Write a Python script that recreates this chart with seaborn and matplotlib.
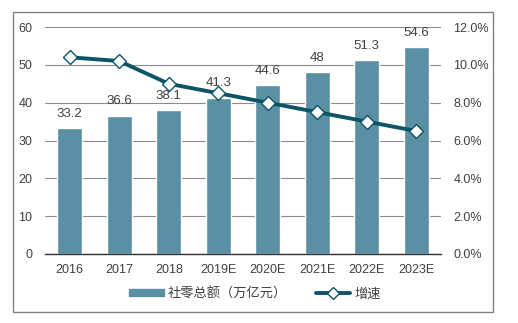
import matplotlib
matplotlib.use("Agg")
import matplotlib.pyplot as plt
import seaborn as sns
import pandas as pd
import numpy as np
from matplotlib.patches import Rectangle
from matplotlib.lines import Line2D

years = ["2016", "2017", "2018", "2019E", "2020E", "2021E", "2022E", "2023E"]
retail_total = [33.2, 36.6, 38.1, 41.3, 44.6, 48, 51.3, 54.6]
growth = [10.4, 10.2, 9.0, 8.5, 8.0, 7.5, 7.0, 6.5]
left_ticks = [0, 10, 20, 30, 40, 50, 60]
right_ticks = [0, 2, 4, 6, 8, 10, 12]
bar_label = "社零总额（万亿元）"
line_label = "增速"

sns.set_theme(style="white")
plt.rcParams['font.family'] = ['Liberation Sans', 'Noto Sans CJK SC', 'DejaVu Sans']

bar_color = "#5B8FA3"
line_color = "#0B5566"
text_color = "#404040"
num_font = ['Liberation Sans', 'DejaVu Sans']

fig = plt.figure(figsize=(5.18, 3.23), dpi=100)
ax = fig.add_axes([45/518, 1-254/323, (441-45)/518, (254-27)/323])

df = pd.DataFrame({"year": years, "total": retail_total, "growth": growth})
sns.barplot(data=df, x="year", y="total", color=bar_color, width=0.5, ax=ax,
            saturation=1)
ax.set_ylim(0, 60)
ax.set_yticks(left_ticks)
ax.set_xlabel("")
ax.set_ylabel("")
for s in ["top", "right", "left"]:
    ax.spines[s].set_visible(False)
ax.spines["bottom"].set_color("#333333")
ax.spines["bottom"].set_linewidth(1.0)
ax.grid(axis="y", color="#8c8c8c", linewidth=0.8)
ax.set_axisbelow(True)
ax.tick_params(axis="y", length=0, labelsize=9, colors=text_color, pad=9)
ax.tick_params(axis="x", length=0, labelsize=9, colors=text_color, pad=7)
for lbl in ax.get_yticklabels() + ax.get_xticklabels():
    lbl.set_family(num_font)
ax.set_xlim(-0.5, 7.5)

for i, v in enumerate(retail_total):
    ax.text(i, v + 2.2, f"{v:g}", ha="center", va="bottom", fontsize=9.5,
            color=text_color, family=num_font)

ax2 = ax.twinx()
sns.lineplot(x=np.arange(len(years)), y=growth, ax=ax2, color=line_color,
             linewidth=2.8, marker="D", markersize=7.5, markerfacecolor="white",
             markeredgecolor=line_color, markeredgewidth=1)
ax2.set_ylim(0, 12)
ax2.set_yticks(right_ticks)
ax2.set_yticklabels([f"{t:.1f}%" for t in right_ticks], family=num_font)
ax2.tick_params(axis="y", length=0, labelsize=9, colors=text_color, pad=9)
for s in ["top", "right", "left", "bottom"]:
    ax2.spines[s].set_visible(False)
ax2.grid(False)
ax2.set_ylabel("")

# Outer border
fig.patches.append(Rectangle((13/518, 1-312/323), (493-13)/518, (312-12)/323,
                             transform=fig.transFigure, fill=False,
                             edgecolor="#808080", linewidth=1.0))

handles = [Rectangle((0, 0), 1, 1, color=bar_color),
           Line2D([0], [0], color=line_color, linewidth=2.8, marker="D",
                  markersize=6.5, markerfacecolor="white", markeredgecolor=line_color)]
fig.legend(handles, [bar_label, line_label], loc="center",
           bbox_to_anchor=(255/518, 1-294/323), ncol=2, frameon=False,
           handlelength=2.6, handleheight=0.45, columnspacing=2.2,
           handletextpad=0.3, labelcolor=text_color,
           prop={'family': ['Noto Sans CJK SC', 'DejaVu Sans'], 'size': 9.5})

fig.savefig("out.png", dpi=100)
